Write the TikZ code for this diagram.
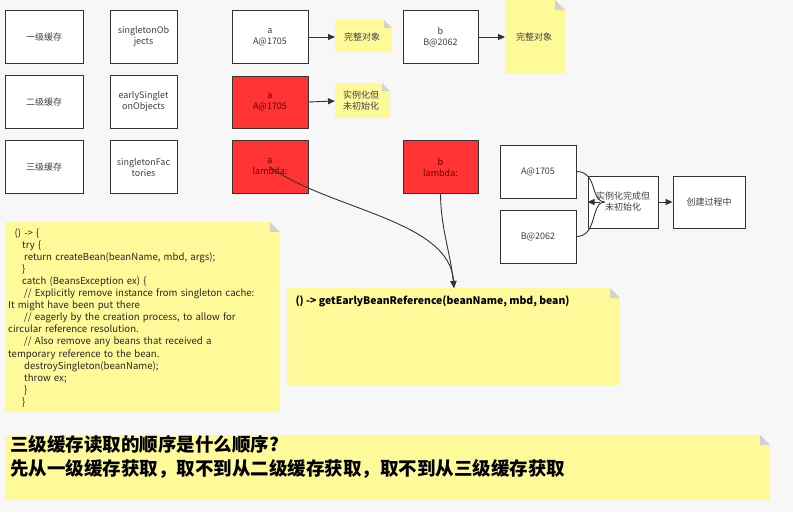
\documentclass[tikz,border=0pt]{standalone}
\usepackage{fontspec}
\setmainfont{Noto Sans CJK SC}
\usetikzlibrary{arrows.meta}
\begin{document}
\begin{tikzpicture}[x=1pt,y=-1pt,
  box/.style={draw=black!80,line width=0.8pt,fill=white,align=center,font=\fontsize{9}{11}\selectfont,inner sep=1pt,text=black!75},
  red/.style={box,fill=red!80!white,text=red!40!black},
  note/.style={fill=yellow!40!white},
  arr/.style={-{Triangle[length=7pt,width=6pt]},line width=0.9pt,black!80}]
\fill[gray!6] (0,0) rectangle (793,512);
\useasboundingbox (0,0) rectangle (793,512);
\newcommand{\notebg}[5]{\fill[note] (#1,#2) -- (#3-#5,#2) -- (#3,#2+#5) -- (#3,#4) -- (#1,#4) -- cycle; \fill[gray!35] (#3-#5,#2) -- (#3,#2+#5) -- (#3-#5,#2+#5) -- cycle;}
% column 1
\node[box,minimum width=78,minimum height=53] (l1) at (44,37) {一级缓存};
\node[box,minimum width=78,minimum height=53] (l2) at (44,102) {二级缓存};
\node[box,minimum width=78,minimum height=53] (l3) at (44,167) {三级缓存};
\node[box,minimum width=67,minimum height=53] (c1) at (143.5,37) {singletonOb\\jects};
\node[box,minimum width=67,minimum height=53] (c2) at (143.5,102) {earlySinglet\\onObjects};
\node[box,minimum width=67,minimum height=53] (c3) at (143.5,167) {singletonFac\\tories};
% row 1
\node[box,minimum width=76,minimum height=53] (a1) at (270,37) {a\\A@1705};
\notebg{335}{20}{392}{52}{8}
\node[font=\fontsize{9}{11}\selectfont,text=black!75] (w1) at (362,37) {完整对象};
\node[box,minimum width=75,minimum height=53] (b1) at (440.5,37) {b\\B@2062};
\notebg{505}{0}{565}{73}{10}
\node[font=\fontsize{9}{11}\selectfont,text=black!75] (w2) at (534,37) {完整对象};
\draw[arr] (a1.east) -- (335,37);
\draw[arr] (b1.east) -- (505,37);
% row 2
\node[red,minimum width=76,minimum height=52] (a2) at (270,102) {a\\A@1705};
\notebg{335}{83}{390}{118}{8}
\node[font=\fontsize{9}{11}\selectfont,align=center,text=black!75] (w3) at (361,101) {实例化但\\未初始化};
\draw[arr] (a2.east) -- (335,101);
% row 3
\node[red,minimum width=76,minimum height=53] (a3) at (270,167) {a\\lambda:};
\node[red,minimum width=75,minimum height=53] (b3) at (440.5,167) {b\\lambda:};
\node[box,minimum width=76,minimum height=53] (A) at (538,171.5) {A@1705};
\node[box,minimum width=76,minimum height=53] (B) at (538,236.5) {B@2062};
\node[box,minimum width=70,minimum height=52] (S) at (623,202) {实例化完成但\\未初始化};
\node[box,minimum width=72,minimum height=52] (P) at (709,202) {创建过程中};
\draw[line width=0.9pt,black!80] (A.east) .. controls (598,171.5) and (590,202) .. (605,202);
\draw[line width=0.9pt,black!80] (B.east) .. controls (598,236.5) and (590,202) .. (605,202);
\draw[arr] (600,202) -- (S.west);
\draw[arr] (S.east) -- (P.west);
% notes
\notebg{5}{222}{280}{412}{10}
\node[anchor=north west,align=left,font=\fontsize{9.6}{12.1}\selectfont,text width=275,inner sep=0,text=black!85] (code) at (8,228) {%
\ \ () -> \{\\
\hspace*{14pt}try \{\\
\hspace*{16pt}return createBean(beanName, mbd, args);\\
\hspace*{14pt}\}\\
\hspace*{14pt}catch (BeansException ex) \{\\
\hspace*{16pt}// Explicitly remove instance from singleton cache:\\
It might have been put there\\
\hspace*{16pt}// eagerly by the creation process, to allow for\\
circular reference resolution.\\
\hspace*{16pt}// Also remove any beans that received a\\
temporary reference to the bean.\\
\hspace*{16pt}destroySingleton(beanName);\\
\hspace*{16pt}throw ex;\\
\hspace*{16pt}\}\\
\hspace*{14pt}\}};
\notebg{287}{288}{620}{385}{10}
\node[anchor=west,font=\bfseries\fontsize{10.4}{12}\selectfont] (g) at (292,301) {() -> getEarlyBeanReference(beanName, mbd, bean)};
\coordinate (gt) at (454,288);
\draw[arr] (a3.center) .. controls (330,210) and (450,220) .. (gt);
\draw[arr] (b3.south) .. controls (441,230) and (450,250) .. (gt);
\notebg{5}{435}{770}{500}{10}
\node[anchor=north west,align=left,font=\bfseries\fontsize{18.5}{24}\selectfont,inner sep=0] (q) at (10,435) {三级缓存读取的顺序是什么顺序?\\先从一级缓存获取，取不到从二级缓存获取，取不到从三级缓存获取};
\end{tikzpicture}
\end{document}
